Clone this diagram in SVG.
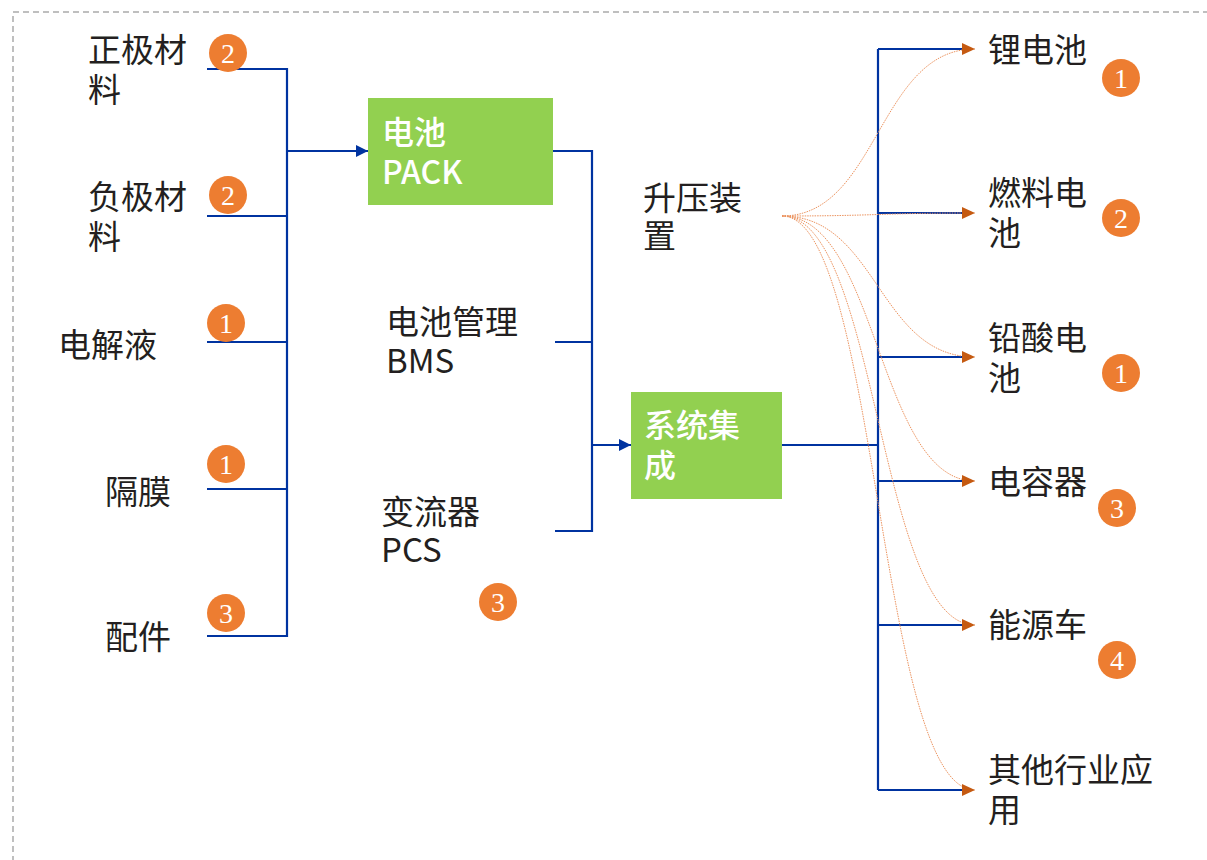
<svg xmlns="http://www.w3.org/2000/svg" width="1207" height="860" viewBox="0 0 1207 860">
<style>
.t{font-family:"Noto Sans CJK SC","Liberation Sans",sans-serif;font-size:33px;fill:#231F20}
.w{font-family:"Noto Sans CJK SC","Liberation Sans",sans-serif;font-size:32px;fill:#fff;font-weight:500}
.b{fill:#ED7D31}
.n{font-family:"Liberation Serif",serif;font-size:28px;fill:#fff;text-anchor:middle}
.ln{stroke:#0033A0;stroke-width:2.2;fill:none}
.cv{stroke:#EC9460;stroke-width:1;stroke-dasharray:1.5 1;fill:none}
.box{fill:#92D050}
</style>
<defs>
<marker id="ab" markerWidth="12" markerHeight="12" refX="12" refY="6" orient="auto" markerUnits="userSpaceOnUse"><path d="M0,0 L12,6 L0,12 Z" fill="#0033A0"/></marker>
<marker id="ao" markerWidth="13" markerHeight="12" refX="13" refY="6" orient="auto" markerUnits="userSpaceOnUse"><path d="M0,0 L13,6 L0,12 Z" fill="#C55A11"/></marker>
</defs>
<rect x="13" y="12" width="1260" height="900" fill="none" stroke="#AAAAAA" stroke-width="1.5" stroke-dasharray="6 4"/>
<g id="connectors">
<path class="ln" d="M207,69 H287 V636 H207 M207,216 H287 M207,342 H287 M207,489 H287"/>
<path class="ln" d="M287,151 H368" marker-end="url(#ab)"/>
<path class="ln" d="M553,151 H592 V531 H555 M555,342 H592"/>
<path class="ln" d="M592,445 H631" marker-end="url(#ab)"/>
<path class="ln" d="M782,445 H878 M878,49 V790"/>
<path class="ln" d="M878,49 H963 M878,213 H963 M878,357 H963 M878,481 H963 M878,625 H963 M878,790 H963"/>
<path class="cv" d="M782,216 C878,216 878,49 975,49" marker-end="url(#ao)"/>
<path class="cv" d="M782,216 C878,216 878,213 975,213" marker-end="url(#ao)"/>
<path class="cv" d="M782,216 C878,216 878,357 975,357" marker-end="url(#ao)"/>
<path class="cv" d="M782,216 C878,216 878,481 975,481" marker-end="url(#ao)"/>
<path class="cv" d="M782,216 C878,216 878,625 975,625" marker-end="url(#ao)"/>
<path class="cv" d="M782,216 C878,216 878,790 975,790" marker-end="url(#ao)"/>
</g>
<g id="n-zjcl"><text class="t" x="88" y="62">正极材<tspan x="88" dy="40">料</tspan></text><circle class="b" cx="228" cy="53" r="19"/><text class="n" x="228" y="63">2</text></g>
<g id="n-fjcl"><text class="t" x="88" y="209">负极材<tspan x="88" dy="40">料</tspan></text><circle class="b" cx="228" cy="195" r="19"/><text class="n" x="228" y="205">2</text></g>
<g id="n-djy"><text class="t" x="58" y="357">电解液</text><circle class="b" cx="226" cy="323" r="19"/><text class="n" x="226" y="333">1</text></g>
<g id="n-gm"><text class="t" x="105" y="504">隔膜</text><circle class="b" cx="226" cy="464" r="19"/><text class="n" x="226" y="474">1</text></g>
<g id="n-pj"><text class="t" x="105" y="649">配件</text><circle class="b" cx="226" cy="613" r="19"/><text class="n" x="226" y="623">3</text></g>
<g id="n-pack"><rect class="box" x="368" y="98" width="185" height="107"/><text class="w" x="382" y="144">电池<tspan x="382" dy="40">PACK</tspan></text></g>
<g id="n-sy"><text class="t" x="643" y="210">升压装<tspan x="643" dy="38">置</tspan></text></g>
<g id="n-bms"><text class="t" x="386" y="334">电池管理<tspan x="386" dy="39">BMS</tspan></text></g>
<g id="n-pcs"><text class="t" x="381" y="524">变流器<tspan x="381" dy="38">PCS</tspan></text><circle class="b" cx="498" cy="602" r="19"/><text class="n" x="498" y="612">3</text></g>
<g id="n-xtjc"><rect class="box" x="631" y="392" width="151" height="107"/><text class="w" x="644" y="437">系统集<tspan x="644" dy="40">成</tspan></text></g>
<g id="n-ldc"><text class="t" x="988" y="62">锂电池</text><circle class="b" cx="1121" cy="78" r="19"/><text class="n" x="1121" y="88">1</text></g>
<g id="n-rldc"><text class="t" x="988" y="205">燃料电<tspan x="988" dy="40">池</tspan></text><circle class="b" cx="1121" cy="218" r="19"/><text class="n" x="1121" y="228">2</text></g>
<g id="n-qsdc"><text class="t" x="988" y="350">铅酸电<tspan x="988" dy="40">池</tspan></text><circle class="b" cx="1121" cy="373" r="19"/><text class="n" x="1121" y="383">1</text></g>
<g id="n-drq"><text class="t" x="988" y="494">电容器</text><circle class="b" cx="1117" cy="508" r="19"/><text class="n" x="1117" y="518">3</text></g>
<g id="n-nyc"><text class="t" x="988" y="637">能源车</text><circle class="b" cx="1117" cy="660" r="19"/><text class="n" x="1117" y="670">4</text></g>
<g id="n-qt"><text class="t" x="988" y="782">其他行业应<tspan x="988" dy="40">用</tspan></text></g>
</svg>
